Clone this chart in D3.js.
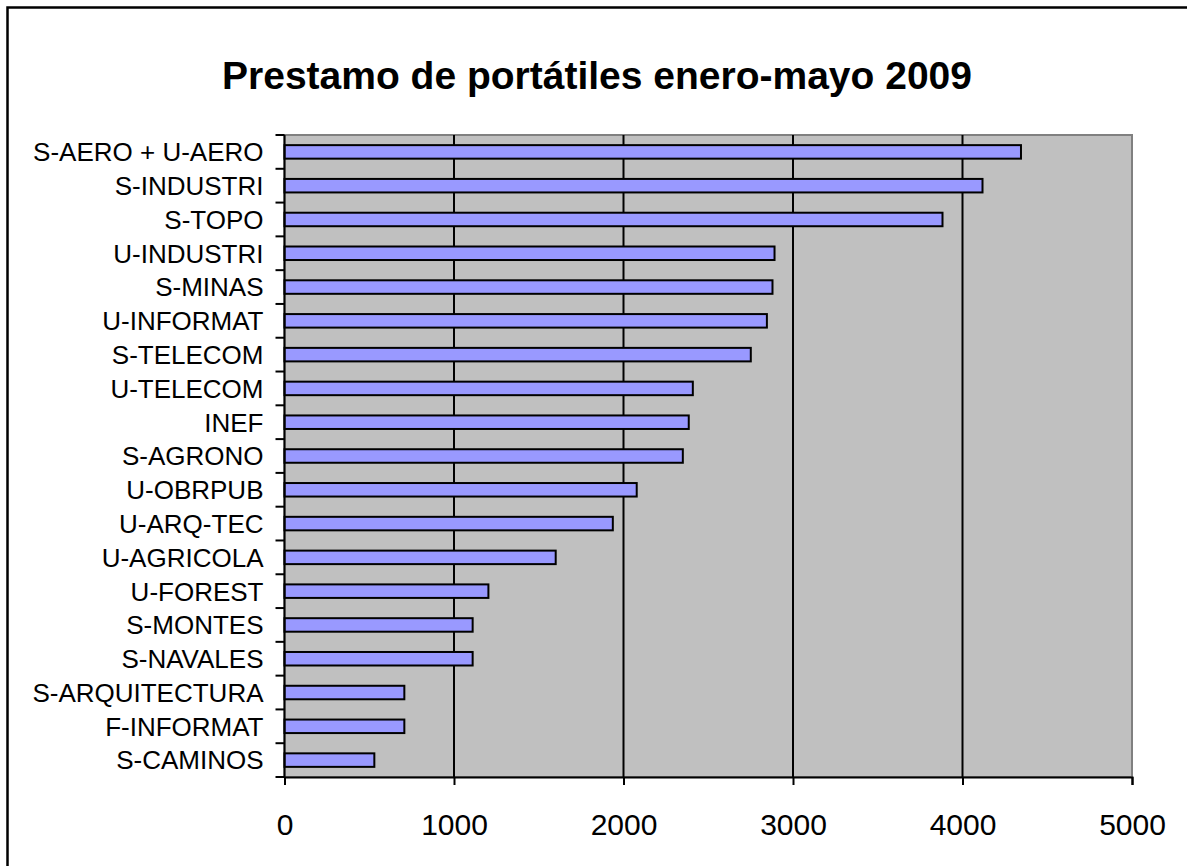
<!DOCTYPE html>
<html>
<head>
<meta charset="utf-8">
<script src="https://cdn.jsdelivr.net/npm/d3@7"></script>
<style>
  body { margin: 0; background: #fff; }
  text { font-family: Arial, "Liberation Sans", sans-serif; fill: #000; }
</style>
</head>
<body>
<script>
// Prestamo de portatiles, enero-mayo 2009

var centros = ["S-AERO + U-AERO", "S-INDUSTRI", "S-TOPO", "U-INDUSTRI", "S-MINAS",
  "U-INFORMAT", "S-TELECOM", "U-TELECOM", "INEF", "S-AGRONO", "U-OBRPUB",
  "U-ARQ-TEC", "U-AGRICOLA", "U-FOREST", "S-MONTES", "S-NAVALES",
  "S-ARQUITECTURA", "F-INFORMAT", "S-CAMINOS"];

var prestamos = [4345, 4118, 3882, 2891, 2879, 2846, 2751, 2409, 2385, 2350,
  2078, 1937, 1600, 1203, 1110, 1110, 707, 707, 530];

var xTicks = [0, 1000, 2000, 3000, 4000, 5000];

var data = centros.map(function(c, i) { return {centro: c, valor: prestamos[i]}; });

var W = 1187, H = 866;
var margin = {top: 135, left: 284.5, right: 55, bottom: 89};
var width = W - margin.left - margin.right,
    height = H - margin.top - margin.bottom;

var svg = d3.select("body").append("svg")
    .attr("width", W)
    .attr("height", H);

// outer chart frame (runs off the right and bottom edges)
svg.append("rect")
    .attr("x", 7.5).attr("y", 7.5)
    .attr("width", W + 10).attr("height", H + 10)
    .attr("fill", "#fff")
    .attr("stroke", "#000")
    .attr("stroke-width", 2.5);

svg.append("text")
    .attr("x", 597)
    .attr("y", 89)
    .attr("text-anchor", "middle")
    .attr("font-size", "39px")
    .attr("font-weight", "bold")
    .text("Prestamo de portátiles enero-mayo 2009");

var g = svg.append("g")
    .attr("transform", "translate(" + margin.left + "," + margin.top + ")");

var x = d3.scaleLinear().domain([0, 5000]).range([0, width]);
var y = d3.scaleBand().domain(centros).range([0, height]).paddingInner(0.6).paddingOuter(0.3);
var yTicks = d3.scaleBand().domain(centros).range([0, height]);

g.append("rect")
    .attr("width", width).attr("height", height)
    .attr("fill", "#c0c0c0")
    .attr("stroke", "#808080")
    .attr("stroke-width", 2);

// vertical gridlines
g.selectAll(".grid")
    .data(xTicks.slice(1, -1))
    .enter()
  .append("line")
    .attr("class", "grid")
    .attr("x1", function(d) { return x(d); })
    .attr("x2", function(d) { return x(d); })
    .attr("y1", 0).attr("y2", height)
    .attr("stroke", "#000")
    .attr("stroke-width", 2);

g.selectAll(".bar")
    .data(data)
    .enter()
  .append("rect")
    .attr("class", "bar")
    .attr("x", x(0))
    .attr("y", function(d) { return y(d.centro); })
    .attr("width", function(d) { return x(d.valor) - x(0); })
    .attr("height", y.bandwidth())
    .attr("fill", "#9999ff")
    .attr("stroke", "#000")
    .attr("stroke-width", 2);

// left axis: ticks sit on the band edges
var yAxis = g.append("g");
yAxis.append("line")
    .attr("x1", 0).attr("x2", 0)
    .attr("y1", 0).attr("y2", height)
    .attr("stroke", "#000").attr("stroke-width", 2);
yAxis.selectAll(".ytick")
    .data(centros.concat(["_end"]))
    .enter()
  .append("line")
    .attr("class", "ytick")
    .attr("x1", -9).attr("x2", 0)
    .attr("y1", function(d, i) { return i * yTicks.step(); })
    .attr("y2", function(d, i) { return i * yTicks.step(); })
    .attr("stroke", "#000").attr("stroke-width", 2);
yAxis.selectAll(".ylabel")
    .data(centros)
    .enter()
  .append("text")
    .attr("class", "ylabel")
    .attr("x", -21)
    .attr("y", function(d) { return yTicks(d) + yTicks.bandwidth() / 2; })
    .attr("dy", "0.36em")
    .attr("text-anchor", "end")
    .attr("font-size", "26px")
    .text(function(d) { return d; });

// bottom axis
var xAxis = d3.axisBottom(x).tickValues(xTicks).tickFormat(d3.format("d")).tickSize(8).tickPadding(29);
var xg = g.append("g")
    .attr("transform", "translate(0," + height + ")")
    .call(xAxis);
xg.select(".domain").attr("stroke", "#000").attr("stroke-width", 2);
xg.selectAll(".tick line").attr("stroke", "#000").attr("stroke-width", 2);
xg.selectAll(".tick text")
    .attr("font-size", "30px")
    .attr("font-family", "Arial, 'Liberation Sans', sans-serif")
    .attr("fill", "#000");
</script>
</body>
</html>
